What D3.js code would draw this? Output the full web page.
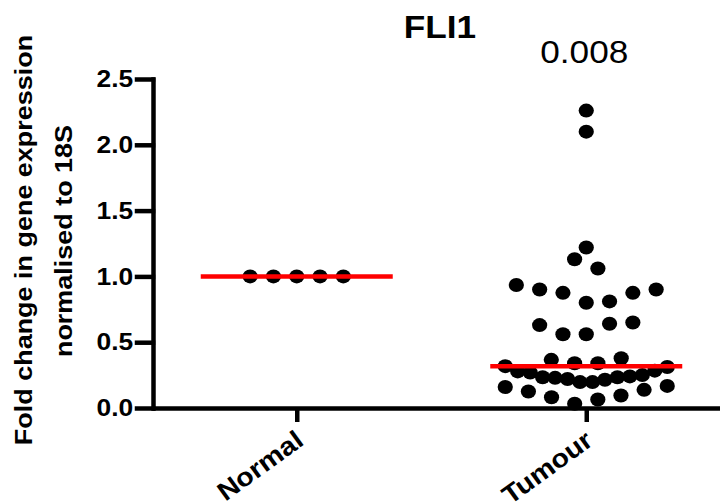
<!DOCTYPE html>
<html><head><meta charset="utf-8">
<script src="https://cdn.jsdelivr.net/npm/d3@7"></script>
<style>body{margin:0;background:#fff} svg{display:block}</style>
</head><body><svg id="chart" width="720" height="504"></svg>
<script>
// ---- data ----
const title = "FLI1";
const pValue = "0.008";
const categories = ["Normal", "Tumour"];
const normalValues = [1.0, 1.0, 1.0, 1.0, 1.0];
const tumourValues = [
  0.032, 0.065, 0.082, 0.095, 0.125, 0.138, 0.160, 0.168,
  0.197, 0.197, 0.22, 0.215, 0.229, 0.234, 0.234, 0.24, 0.27, 0.25, 0.278, 0.284, 0.318, 0.312,
  0.34, 0.34, 0.366, 0.378,
  0.56, 0.56, 0.64, 0.63, 0.65,
  0.80, 0.875, 0.81, 0.90, 0.875, 0.935, 0.90,
  1.13, 1.06,
  1.22,
  2.10,
  2.26
];
const yTicks = [0, 0.5, 1.0, 1.5, 2.0, 2.5];
const yLabelLines = ["Fold change in gene expression", "normalised to 18S"];

// ---- layout ----
const FONT = "'Liberation Sans', Arial, Helvetica, sans-serif";
const SX = 1.1;
const svg = d3.select("#chart");
const y = d3.scaleLinear().domain([0, 2.5]).range([408, 79]);
const x = d3.scalePoint().domain(categories).range([152, 731]).padding(0.5);

const ROW_SPAN = 0.14, STEP = 23.3, MAXW = 162;
function swarm(values, cx) {
  const idx = values.map((v, i) => i).sort((a, b) => values[a] - values[b] || a - b);
  const rows = []; let cur = null;
  for (const i of idx) {
    if (!cur || values[i] - cur.start > ROW_SPAN + 1e-9) { cur = {start: values[i], items: []}; rows.push(cur); }
    cur.items.push(i);
  }
  const out = [];
  rows.forEach(r => {
    r.items.sort((a, b) => a - b);
    const n = r.items.length;
    const s = n > 1 ? Math.min(STEP, MAXW / (n - 1)) : 0;
    r.items.forEach((i, k) => {
      let off;
      if (n % 2) off = k === 0 ? 0 : (k % 2 ? -(k + 1) / 2 : k / 2);
      else off = k % 2 === 0 ? -(k / 2 + 0.5) : ((k - 1) / 2 + 0.5);
      out.push({v: values[i], x: cx + off * s});
    });
  });
  return out;
}

const groups = [
  {cat: categories[0], values: normalValues},
  {cat: categories[1], values: tumourValues}
];

// axes
const yAxis = svg.append("g").attr("transform", `translate(${x.range()[0] + 1},0)`)
  .call(d3.axisLeft(y).tickValues(yTicks).tickFormat(d3.format(".1f")).tickSize(16).tickSizeOuter(0).tickPadding(2));
yAxis.selectAll("path,line").attr("stroke", "#000").attr("stroke-width", 4.5).attr("stroke-linecap", "square");
yAxis.selectAll("text").attr("font-size", 24).attr("font-weight", "bold").attr("font-family", FONT)
  .attr("fill", "#000").attr("transform", `scale(${SX},1)`);

const xAxis = svg.append("g").attr("transform", `translate(0,${y(0)})`)
  .call(d3.axisBottom(x).tickSize(14).tickSizeOuter(0));
xAxis.selectAll("path,line").attr("stroke", "#000").attr("stroke-width", 4.5);
xAxis.selectAll("text").attr("font-size", 26).attr("font-weight", "bold").attr("font-family", FONT)
  .attr("fill", "#000").attr("text-anchor", "end").attr("x", 0).attr("y", 0).attr("dy", "0.71em")
  .attr("transform", `translate(-3,21) rotate(-36) scale(${SX},1)`);

// dots
groups.forEach(g => {
  const pts = swarm(g.values, x(g.cat));
  svg.append("g").selectAll("ellipse").data(pts).join("ellipse")
    .attr("cx", d => d.x).attr("cy", d => y(d.v)).attr("rx", 7.6).attr("ry", 7.0).attr("fill", "#000");
});
// medians
groups.forEach(g => {
  const m = d3.median(g.values);
  svg.append("line").attr("x1", x(g.cat) - 96).attr("x2", x(g.cat) + 96)
    .attr("y1", y(m)).attr("y2", y(m)).attr("stroke", "#ff0000").attr("stroke-width", 4.5);
});

// y label
const ylab = [[32, 240], [72, 241]];
yLabelLines.forEach((t, i) => {
  svg.append("text").attr("transform", `translate(${ylab[i][0]},${ylab[i][1]}) rotate(-90) scale(${SX},1)`)
    .attr("text-anchor", "middle").attr("font-size", 24.5).attr("font-weight", "bold").attr("font-family", FONT)
    .attr("fill", "#000").text(t);
});
// title
svg.append("text").attr("transform", `translate(440,38) scale(${SX},1)`).attr("text-anchor", "middle")
  .attr("font-size", 32).attr("font-weight", "bold").attr("font-family", FONT).attr("fill", "#000").text(title);
svg.append("text").attr("transform", `translate(${x(categories[1]) - 2},63) scale(${SX},1)`).attr("text-anchor", "middle")
  .attr("font-size", 32).attr("font-family", FONT).attr("fill", "#000").text(pValue);
</script></body></html>
